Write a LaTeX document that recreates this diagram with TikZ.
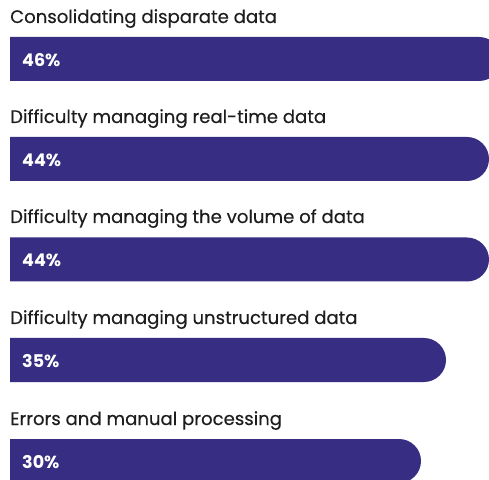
\documentclass[tikz,border=0pt]{standalone}
\usepackage{fontspec}
\setmainfont{Poppins}
\newfontfamily\lblfont[FakeBold=0.3]{Poppins}
\definecolor{barc}{RGB}{55,45,130}
\definecolor{txtc}{RGB}{30,28,30}
\tikzset{
  lbl/.style={anchor=base west, inner sep=0pt, text=txtc, font=\lblfont\fontsize{18.1}{20}\selectfont},
  pct/.style={anchor=base west, inner sep=0pt, text=white, font=\fontsize{17.5}{20}\selectfont\bfseries},
  bar/.style={fill=barc}
}
\begin{document}
\begin{tikzpicture}[x=1pt,y=1pt]
\useasboundingbox (0,0) rectangle (489,479);
\clip (0,0) rectangle (489,479);
\fill[bar] (10,442) -- (479,442) arc[start angle=90,end angle=-90,radius=22pt] -- (10,398) -- cycle;
\fill[bar] (10,342) -- (467,342) arc[start angle=90,end angle=-90,radius=22pt] -- (10,298) -- cycle;
\fill[bar] (10,241.5) -- (467,241.5) arc[start angle=90,end angle=-90,radius=22pt] -- (10,197.5) -- cycle;
\fill[bar] (10,141) -- (424,141) arc[start angle=90,end angle=-90,radius=22pt] -- (10,97) -- cycle;
\fill[bar] (10,40) -- (399,40) arc[start angle=90,end angle=-90,radius=22pt] -- (10,-4) -- cycle;
\node[lbl] (l1) at (10,456) {Consolidating disparate data};
\node[lbl] (l2) at (10,356) {Difficulty managing real-time data};
\node[lbl] (l3) at (10,256) {Difficulty managing the volume of data};
\node[lbl] (l4) at (10,155) {Difficulty managing unstructured data};
\node[lbl] (l5) at (10,54) {Errors and manual processing};
\node[pct] (p1) at (22,412.5) {46\%};
\node[pct] (p2) at (22,312.5) {44\%};
\node[pct] (p3) at (22,212) {44\%};
\node[pct] (p4) at (22,111.5) {35\%};
\node[pct] (p5) at (22,10.5) {30\%};
\end{tikzpicture}
\end{document}
